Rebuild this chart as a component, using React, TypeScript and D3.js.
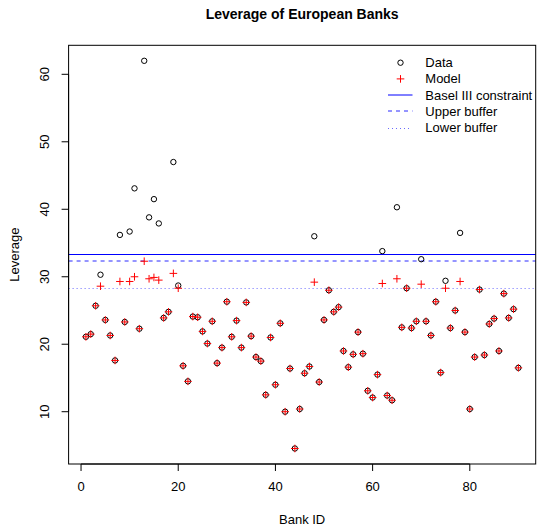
import React from 'react';
import * as d3 from 'd3';

// observed leverage per bank (bank ID = index + 1)
const leverageData = [
  21.1, 21.5, 25.7, 30.3, 23.6, 21.3, 17.6, 36.2, 23.3, 36.7,
  43.1, 22.3, 62.0, 38.8, 41.5, 37.9, 23.9, 24.8, 47.0, 28.7,
  16.8, 14.5, 24.1, 24.0, 21.9, 20.1, 23.4, 17.2, 19.5, 26.3,
  21.1, 23.5, 19.5, 26.2, 21.2, 18.1, 17.5, 12.5, 21.0, 14.0,
  23.1, 10.0, 16.4, 4.55, 10.4, 15.7, 16.7, 36.0, 14.4, 23.6,
  28.0, 24.8, 25.5, 19.0, 16.6, 18.5, 21.8, 18.6, 13.1, 12.1,
  15.5, 33.8, 12.4, 11.7, 40.3, 22.5, 28.3, 22.4, 23.4, 32.6,
  23.4, 21.3, 26.3, 15.8, 29.4, 22.4, 25.0, 36.5, 21.8, 10.4,
  18.1, 28.1, 18.4, 23.0, 23.8, 19.0, 27.5, 23.9, 25.2, 16.5
];

// model leverage per bank
const leverageModel = [
  21.1, 21.5, 25.7, 28.6, 23.6, 21.3, 17.6, 29.3, 23.3, 29.3,
  30.0, 22.3, 32.3, 29.7, 29.9, 29.5, 23.9, 24.8, 30.5, 28.3,
  16.8, 14.5, 24.1, 24.0, 21.9, 20.1, 23.4, 17.2, 19.5, 26.3,
  21.1, 23.5, 19.5, 26.2, 21.2, 18.1, 17.5, 12.5, 21.0, 14.0,
  23.1, 10.0, 16.4, 4.55, 10.4, 15.7, 16.7, 29.2, 14.4, 23.6,
  28.0, 24.8, 25.5, 19.0, 16.6, 18.5, 21.8, 18.6, 13.1, 12.1,
  15.5, 29.0, 12.4, 11.7, 29.7, 22.5, 28.3, 22.4, 23.4, 28.9,
  23.4, 21.3, 26.3, 15.8, 28.3, 22.4, 25.0, 29.3, 21.8, 10.4,
  18.1, 28.1, 18.4, 23.0, 23.8, 19.0, 27.5, 23.9, 25.2, 16.5
];

const baselConstraint = 33.33;
const upperBuffer = 32.26;
const lowerBuffer = 28.26;

const xTicks = [0, 20, 40, 60, 80];
const yTicks = [10, 20, 30, 40, 50, 60];

const legendItems = ['Data', 'Model', 'Basel III constraint', 'Upper buffer', 'Lower buffer'];

const width = 538;
const height = 528;
const margin = { top: 45.3, right: 2.3, bottom: 64, left: 68.6 };

const font = '"Liberation Sans", Arial, Helvetica, sans-serif';
const fs = 13;

const App: React.FC = () => {
  const n = leverageData.length;
  const xPad = (n - 1) * 0.04;
  const xScale = d3.scaleLinear()
    .domain([1 - xPad, n + xPad])
    .range([margin.left, width - margin.right]);

  const [yMin, yMax] = d3.extent(leverageData) as [number, number];
  const yPad = (yMax - yMin) * 0.04;
  const yScale = d3.scaleLinear()
    .domain([yMin - yPad, yMax + yPad])
    .range([height - margin.bottom, margin.top]);

  const x0 = margin.left;
  const x1 = width - margin.right;
  const yb = height - margin.bottom;
  const yt = margin.top;

  const legX = 388;
  const legY = 62.7;
  const legStep = 16.2;
  const solidCol = '#0000ff';
  const dashCol = '#2a2aff';
  const dotCol = '#6a6aff';

  const ySolid = Math.round(yScale(baselConstraint)) + 0.5;
  const yDash = Math.round(yScale(upperBuffer));
  const yDot = Math.round(yScale(lowerBuffer)) + 0.5;

  return (
    <div>
      <style>{'body{margin:0}'}</style>
      <svg width={width} height={height} style={{ display: 'block', background: 'white' }}>
        <text x={(x0 + x1) / 2} y={19} textAnchor="middle" fontFamily={font}
          fontWeight="bold" fontSize={14}>Leverage of European Banks</text>

        {/* reference lines */}
        <line x1={x0} x2={x1} y1={ySolid} y2={ySolid} stroke={solidCol} strokeWidth={1} />
        <line x1={x0} x2={x1} y1={yDash} y2={yDash} stroke={dashCol} strokeWidth={1} strokeDasharray="4,4" />
        <line x1={x0} x2={x1} y1={yDot} y2={yDot} stroke={dotCol} strokeWidth={1} strokeDasharray="1,3" />

        {/* data circles */}
        {leverageData.map((v, i) => (
          <circle key={'d' + i} cx={xScale(i + 1)} cy={yScale(v)} r={2.7}
            fill="none" stroke="black" strokeWidth={1} />
        ))}
        {/* model crosses */}
        {leverageModel.map((v, i) => {
          const cx = xScale(i + 1);
          const cy = yScale(v);
          const s = 3.8;
          return (
            <path key={'m' + i} d={`M${cx - s},${cy}H${cx + s}M${cx},${cy - s}V${cy + s}`}
              stroke="red" strokeWidth={1} fill="none" />
          );
        })}

        {/* box */}
        <rect x={x0} y={yt} width={x1 - x0} height={yb - yt} fill="none" stroke="black" strokeWidth={1} />

        {/* x axis */}
        <line x1={xScale(xTicks[0])} x2={xScale(xTicks[xTicks.length - 1])} y1={yb} y2={yb} stroke="black" />
        {xTicks.map(t => (
          <g key={'xt' + t}>
            <line x1={xScale(t)} x2={xScale(t)} y1={yb} y2={yb + 7} stroke="black" />
            <text x={xScale(t)} y={491} textAnchor="middle" fontFamily={font} fontSize={fs}>{t}</text>
          </g>
        ))}
        <text x={(x0 + x1) / 2} y={524} textAnchor="middle" fontFamily={font} fontSize={fs}>Bank ID</text>

        {/* y axis */}
        <line x1={x0} x2={x0} y1={yScale(yTicks[0])} y2={yScale(yTicks[yTicks.length - 1])} stroke="black" />
        {yTicks.map(t => (
          <g key={'yt' + t}>
            <line x1={x0 - 7} x2={x0} y1={yScale(t)} y2={yScale(t)} stroke="black" />
            <text transform={`translate(48.5,${yScale(t)}) rotate(-90)`} textAnchor="middle"
              fontFamily={font} fontSize={fs}>{t}</text>
          </g>
        ))}
        <text transform={`translate(18.5,${(yt + yb) / 2}) rotate(-90)`} textAnchor="middle"
          fontFamily={font} fontSize={fs}>Leverage</text>

        {/* legend */}
        <circle cx={legX + 12.5} cy={legY} r={2.7} fill="none" stroke="black" />
        <path d={`M${legX + 12.5 - 3.8},${legY + legStep}H${legX + 12.5 + 3.8}M${legX + 12.5},${legY + legStep - 3.8}V${legY + legStep + 3.8}`}
          stroke="red" fill="none" />
        <line x1={legX} x2={legX + 24.5} y1={Math.round(legY + 2 * legStep)} y2={Math.round(legY + 2 * legStep)} stroke={solidCol} />
        <line x1={legX} x2={legX + 24.5} y1={Math.round(legY + 3 * legStep)} y2={Math.round(legY + 3 * legStep)} stroke={dashCol} strokeDasharray="4,4" />
        <line x1={legX} x2={legX + 22} y1={Math.round(legY + 4 * legStep) + 0.5} y2={Math.round(legY + 4 * legStep) + 0.5} stroke={dotCol} strokeDasharray="1,3" />
        {legendItems.map((label, i) => (
          <text key={label} x={425.3} y={legY + i * legStep} dy="0.35em" fontFamily={font} fontSize={fs}>{label}</text>
        ))}
      </svg>
    </div>
  );
};

export default App;
